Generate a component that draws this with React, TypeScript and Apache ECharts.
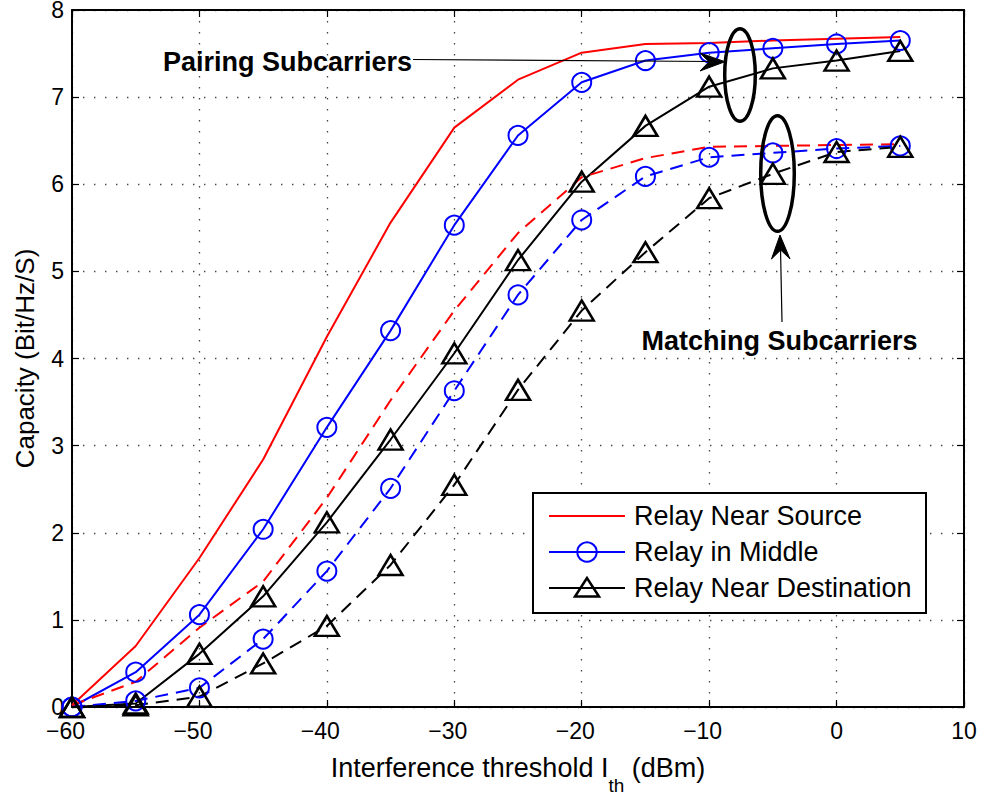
import React, { useEffect, useRef } from "react";
import * as echarts from "echarts";

// Interference threshold I_th (dBm)
const thresholds = [-60, -55, -50, -45, -40, -35, -30, -25, -20, -15, -10, -5, 0, 5];

// Pairing subcarriers (solid lines)
const pairNearSource = [0.02, 0.7, 1.71, 2.84, 4.25, 5.56, 6.65, 7.2, 7.51, 7.61, 7.62, 7.65, 7.67, 7.69];
const pairMiddle = [0.0, 0.4, 1.06, 2.04, 3.21, 4.32, 5.53, 6.56, 7.17, 7.42, 7.51, 7.56, 7.61, 7.65];
const pairNearDest = [0.0, 0.04, 0.61, 1.27, 2.12, 3.07, 4.06, 5.13, 6.03, 6.67, 7.12, 7.33, 7.42, 7.53];

// Matching subcarriers (dashed lines)
const matchNearSource = [0.02, 0.29, 0.91, 1.44, 2.4, 3.52, 4.55, 5.44, 6.08, 6.3, 6.43, 6.44, 6.45, 6.46];
const matchMiddle = [0.0, 0.07, 0.22, 0.78, 1.56, 2.51, 3.63, 4.73, 5.59, 6.09, 6.31, 6.36, 6.41, 6.44];
const matchNearDest = [0.0, 0.02, 0.12, 0.5, 0.93, 1.63, 2.55, 3.64, 4.55, 5.22, 5.84, 6.12, 6.37, 6.43];

const legendNames = ["Relay Near Source", "Relay in Middle", "Relay Near Destination"];
const annotationTexts = ["Pairing Subcarriers", "Matching Subcarriers"];

const FONT = "'Liberation Sans', Arial, Helvetica, sans-serif";
const RED = "#ff0000";
const BLUE = "#0000ff";
const BLACK = "#000000";

function pts(values: number[]) {
  return thresholds.map((x, i) => [x, values[i]]);
}

export default function App() {
  const ref = useRef<HTMLDivElement>(null);

  useEffect(() => {
    if (!ref.current) return;
    const chart = echarts.init(ref.current, null, { renderer: "svg" });

    const tickFont = 23;
    const axisCommon = {
      type: "value" as const,
      axisLine: { show: true, onZero: false, lineStyle: { color: BLACK, width: 2 } },
      axisTick: { show: true, inside: true, length: 7, lineStyle: { color: BLACK, width: 1.2 } },
    };

    const circleStyle = (color: string) => ({
      color: "rgba(0,0,0,0)",
      borderColor: color,
      borderWidth: 2,
    });

    const dash = [13, 8];
    const gridDots = { color: "#444", width: 1.3, type: [1.4, 9.6] };

    const seriesBase = {
      type: "line" as const,
      xAxisIndex: 0,
      yAxisIndex: 0,
      silent: true,
    };

    const series: any[] = [
      {
        ...seriesBase,
        name: "pairNearSource",
        data: pts(pairNearSource),
        symbol: "none",
        lineStyle: { color: RED, width: 2 },
      },
      {
        ...seriesBase,
        name: "pairMiddle",
        data: pts(pairMiddle),
        symbol: "circle",
        symbolSize: 19,
        itemStyle: circleStyle(BLUE),
        lineStyle: { color: BLUE, width: 2 },
      },
      {
        ...seriesBase,
        name: "pairNearDest",
        data: pts(pairNearDest),
        symbol: "triangle",
        symbolSize: [24, 20],
        itemStyle: { color: "rgba(0,0,0,0)", borderColor: BLACK, borderWidth: 2.5 },
        lineStyle: { color: BLACK, width: 2 },
      },
      {
        ...seriesBase,
        name: "matchNearSource",
        data: pts(matchNearSource),
        symbol: "none",
        lineStyle: { color: RED, width: 2, type: dash },
      },
      {
        ...seriesBase,
        name: "matchMiddle",
        data: pts(matchMiddle),
        symbol: "circle",
        symbolSize: 19,
        itemStyle: circleStyle(BLUE),
        lineStyle: { color: BLUE, width: 2, type: dash },
      },
      {
        ...seriesBase,
        name: "matchNearDest",
        data: pts(matchNearDest),
        symbol: "triangle",
        symbolSize: [24, 20],
        itemStyle: { color: "rgba(0,0,0,0)", borderColor: BLACK, borderWidth: 2.5 },
        lineStyle: { color: BLACK, width: 2, type: dash },
      },
    ];

    // Legend (drawn as graphics, MATLAB style box)
    const lgX = 533, lgY = 493, lgW = 393, lgH = 120;
    const rowY = [516, 552, 588];
    const sampleX0 = 549, sampleX1 = 625, sampleMid = 587;
    const legendGraphics: any[] = [
      {
        type: "rect",
        shape: { x: lgX, y: lgY, width: lgW, height: lgH },
        style: { fill: "#fff", stroke: BLACK, lineWidth: 2 },
        z: 100,
      },
      { type: "line", shape: { x1: sampleX0, y1: rowY[0], x2: sampleX1, y2: rowY[0] }, style: { stroke: RED, lineWidth: 2 }, z: 101 },
      { type: "line", shape: { x1: sampleX0, y1: rowY[1], x2: sampleX1, y2: rowY[1] }, style: { stroke: BLUE, lineWidth: 2 }, z: 101 },
      { type: "circle", shape: { cx: sampleMid, cy: rowY[1], r: 9.7 }, style: { fill: "none", stroke: BLUE, lineWidth: 2 }, z: 102 },
      { type: "line", shape: { x1: sampleX0, y1: rowY[2], x2: sampleX1, y2: rowY[2] }, style: { stroke: BLACK, lineWidth: 2 }, z: 101 },
      {
        type: "polygon",
        shape: { points: [[sampleMid, rowY[2] - 10], [sampleMid - 12, rowY[2] + 8.5], [sampleMid + 12, rowY[2] + 8.5]] },
        style: { fill: "none", stroke: BLACK, lineWidth: 2.5 },
        z: 102,
      },
      ...legendNames.map((t, i) => ({
        type: "text",
        x: 634,
        y: rowY[i],
        style: { text: t, fill: BLACK, font: `27px ${FONT}`, textAlign: "left", textVerticalAlign: "middle" },
        z: 103,
      })),
    ];

    // Annotations
    const annotationGraphics: any[] = [
      {
        type: "text",
        x: 163,
        y: 62,
        style: { text: annotationTexts[0], fill: BLACK, font: `bold 27px ${FONT}`, textAlign: "left", textVerticalAlign: "middle" },
        z: 90,
      },
      { type: "line", shape: { x1: 413, y1: 59.5, x2: 712, y2: 61.5 }, style: { stroke: BLACK, lineWidth: 1.2 }, z: 90 },
      {
        type: "polygon",
        shape: { points: [[725, 61.7], [700, 53], [709, 61.7], [700, 71]] },
        style: { fill: BLACK, stroke: BLACK, lineWidth: 1 },
        z: 91,
      },
      {
        type: "ellipse",
        shape: { cx: 740, cy: 75, rx: 15.3, ry: 46.3 },
        style: { fill: "none", stroke: BLACK, lineWidth: 3.5 },
        z: 90,
      },
      {
        type: "ellipse",
        shape: { cx: 777.5, cy: 173.5, rx: 16.8, ry: 57.8 },
        style: { fill: "none", stroke: BLACK, lineWidth: 3.5 },
        z: 90,
      },
      { type: "line", shape: { x1: 782, y1: 322, x2: 780.5, y2: 248 }, style: { stroke: BLACK, lineWidth: 1.2 }, z: 90 },
      {
        type: "polygon",
        shape: { points: [[780, 235], [790, 259], [780.7, 250], [771.5, 259]] },
        style: { fill: BLACK, stroke: BLACK, lineWidth: 1 },
        z: 91,
      },
      {
        type: "text",
        x: 641.5,
        y: 341,
        style: { text: annotationTexts[1], fill: BLACK, font: `bold 27px ${FONT}`, textAlign: "left", textVerticalAlign: "middle" },
        z: 90,
      },
    ];

    chart.setOption({
      animation: false,
      backgroundColor: "#ffffff",
      textStyle: { fontFamily: FONT },
      grid: { left: 72, right: 20, top: 10, bottom: 89, containLabel: false, outerBoundsMode: "none" },
      xAxis: [
        {
          ...axisCommon,
          position: "bottom",
          min: -60,
          max: 10,
          interval: 10,
          axisLabel: {
            show: true,
            color: BLACK,
            fontSize: tickFont,
            fontFamily: FONT,
            lineHeight: 16,
            margin: 16,
            formatter: (v: number) => (v < 0 ? `{n|\u2212${Math.abs(v)}}{s| }` : `{n|${v}}`),
            rich: {
              n: { fontSize: tickFont, lineHeight: 16, fontFamily: FONT, color: BLACK },
              s: { width: 13, lineHeight: 16, fontSize: tickFont, fontFamily: FONT },
            },
          },
          splitLine: { show: true, lineStyle: gridDots },
          name: "{m|Interference threshold I}{sub|th}{m| (dBm)}",
          nameLocation: "middle",
          nameGap: 47,
          nameTextStyle: {
            color: BLACK,
            fontFamily: FONT,
            fontSize: 27,
            rich: {
              m: { fontSize: 27, lineHeight: 28, fontFamily: FONT, color: BLACK, verticalAlign: "top" },
              sub: { fontSize: 19, lineHeight: 20, fontFamily: FONT, color: BLACK, verticalAlign: "top", padding: [22, 0, 0, 0] },
            },
          },
        },
        {
          ...axisCommon,
          position: "top",
          min: -60,
          max: 10,
          interval: 10,
          axisLabel: { show: false },
          splitLine: { show: false },
        },
      ],
      yAxis: [
        {
          ...axisCommon,
          position: "left",
          min: 0,
          max: 8,
          interval: 1,
          axisLabel: { show: true, color: BLACK, fontSize: tickFont, lineHeight: 16, fontFamily: FONT, margin: 8 },
          splitLine: { show: true, lineStyle: gridDots },
          name: "Capacity (Bit/Hz/S)",
          nameLocation: "middle",
          nameGap: 34,
          nameTextStyle: { color: BLACK, fontFamily: FONT, fontSize: 26 },
        },
        {
          ...axisCommon,
          position: "right",
          min: 0,
          max: 8,
          interval: 1,
          axisLabel: { show: false },
          splitLine: { show: false },
        },
      ],
      series,
      graphic: [...annotationGraphics, ...legendGraphics],
    });

    return () => {
      chart.dispose();
    };
  }, []);

  return (
    <div
      ref={ref}
      style={{ position: "absolute", left: 0, top: 0, width: 984, height: 796, background: "#fff" }}
    />
  );
}
